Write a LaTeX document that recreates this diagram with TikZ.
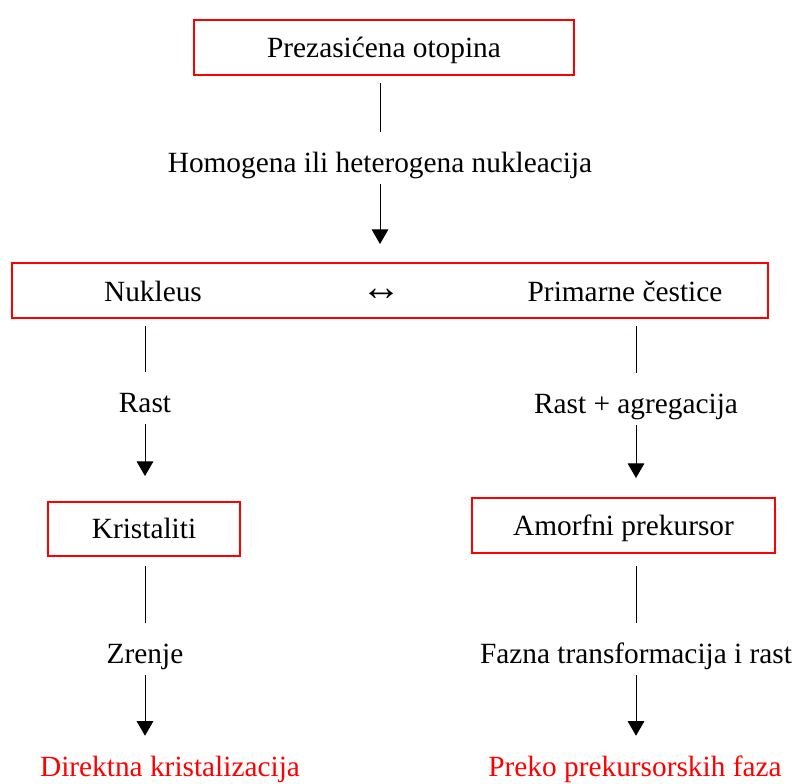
\documentclass[tikz,border=0pt]{standalone}
\usepackage{fontspec}
\setmainfont{Liberation Serif}
\usetikzlibrary{arrows.meta}
\definecolor{boxred}{RGB}{255,0,0}
\begin{document}
\begin{tikzpicture}[x=0.75pt,y=-0.75pt,
  every node/.style={font=\fontsize{22pt}{26pt}\selectfont, inner sep=0pt},
  redbox/.style={draw=boxred, line width=1.5pt, text height=14.5pt, text depth=0pt},
  intext/.style={text height=14.5pt, text depth=0pt},
  arrowsym/.style={anchor=base, font=\fontsize{30pt}{34pt}\selectfont},
  lbl/.style={anchor=base, text height=30pt, text depth=9pt},
  redlbl/.style={anchor=base, text height=30pt, text depth=9pt, text=boxred},
  conn/.style={line width=0.75pt},
  arr/.style={line width=0.75pt, -{Triangle[length=11pt,width=12.5pt]}}
]
\useasboundingbox (0,0) rectangle (795,783);

% boxes
\node[redbox, minimum width=285pt, minimum height=41.25pt] (top) at (384,47.5) {Prezasićena otopina};
\node[redbox, minimum width=567pt, minimum height=41.25pt] (big) at (390,290.5) {};
\node[intext] (nuk) at (153,292) {Nukleus};
\node[arrowsym] (lr) at (381,300) {↔};
\node[intext] (prim) at (625,292) {Primarne čestice};
\node[redbox, minimum width=144pt, minimum height=40.5pt] (krist) at (144,529) {Kristaliti};
\node[redbox, minimum width=227.25pt, minimum height=41.25pt] (amorf) at (623.5,525.5) {Amorfni prekursor};

% labels
\node[lbl] (hom) at (380,172) {Homogena ili heterogena nukleacija};
\node[lbl] (rast) at (145,412) {Rast};
\node[lbl] (ragr) at (636,413) {Rast + agregacija};
\node[lbl] (zrenje) at (145,663) {Zrenje};
\node[lbl] (fazna) at (636,663) {Fazna transformacija i rast};
\node[redlbl] (dk) at (170,776) {Direktna kristalizacija};
\node[redlbl] (pp) at (635,776) {Preko prekursorskih faza};

% connectors
\draw[conn, shorten <=5.25pt] (hom.north |- top.south) -- (hom.north);
\draw[arr, shorten >=13.5pt] (hom.south) -- (hom.south |- big.north);

\draw[conn, shorten <=5.25pt] (rast.north |- big.south) -- (rast.north);
\draw[arr, shorten >=18.75pt] (rast.south) -- (rast.south |- krist.north);
\draw[conn, shorten <=6.75pt] (zrenje.north |- krist.south) -- (zrenje.north);
\draw[arr] (zrenje.south) -- (zrenje.south |- dk.north);

\draw[conn, shorten <=5.25pt] (ragr.north |- big.south) -- (ragr.north);
\draw[arr, shorten >=14.25pt] (ragr.south) -- (ragr.south |- amorf.north);
\draw[conn, shorten <=9pt] (fazna.north |- amorf.south) -- (fazna.north);
\draw[arr] (fazna.south) -- (fazna.south |- pp.north);
\end{tikzpicture}
\end{document}
